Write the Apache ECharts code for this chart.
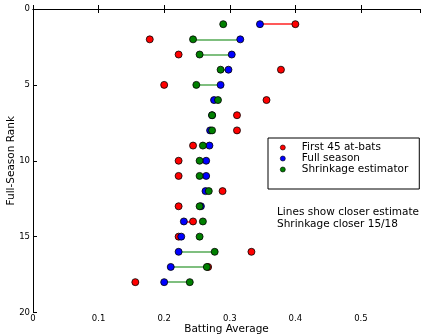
<!DOCTYPE html>
<html><head><meta charset="utf-8">
<script src="https://cdn.jsdelivr.net/npm/echarts@6/dist/echarts.min.js"></script>
<style>html,body{margin:0;padding:0;background:#fff}#c{width:421px;height:335px}</style>
</head><body><div id="c"></div>
<script>
// Full-season rank 1..18
var ranks = [1,2,3,4,5,6,7,8,9,10,11,12,13,14,15,16,17,18];
var first45 = [0.400,0.178,0.222,0.378,0.200,0.356,0.311,0.311,0.244,0.222,0.222,0.289,0.222,0.244,0.222,0.333,0.267,0.156];
var fullSeason = [0.346,0.316,0.303,0.298,0.286,0.276,0.273,0.270,0.269,0.264,0.264,0.263,0.256,0.230,0.226,0.222,0.210,0.200];
var shrinkage = [0.290,0.244,0.254,0.286,0.249,0.282,0.273,0.273,0.259,0.254,0.254,0.268,0.254,0.259,0.254,0.277,0.265,0.239];
var xTicks = [0,0.1,0.2,0.3,0.4,0.5];
var yTicks = [0,5,10,15,20];

var FONT = 'DejaVu Sans';
function pts(vals){ return vals.map(function(v,i){ return [v, ranks[i]]; }); }
var segs = fullSeason.map(function(b,i){
  var dr = Math.abs(first45[i]-b), dg = Math.abs(shrinkage[i]-b);
  var redCloser = dr < dg;
  return {
    coords: [[b, ranks[i]], [redCloser ? first45[i] : shrinkage[i], ranks[i]]],
    lineStyle: {color: redCloser ? 'rgba(255,0,0,0.65)' : 'rgba(0,128,0,0.5)'}
  };
});

var axisCommon = {
  axisLine: {show: true, lineStyle: {color: '#000', width: 1}},
  axisTick: {show: true, inside: true, length: 4, lineStyle: {color: '#000'}},
  splitLine: {show: false}
};
function merge(a,b){ var o={}; for(var k in a)o[k]=a[k]; for(var k2 in b)o[k2]=b[k2]; return o; }

var chart = echarts.init(document.getElementById('c'), null, {renderer:'canvas'});
var option = {
  animation: false,
  grid: {left: 33, right: 1, top: 9, bottom: 22.5, containLabel: false, outerBoundsMode: 'none'},
  xAxis: [
    merge(axisCommon, {type:'value', min:0, max:0.59, interval:0.1, position:'bottom',
      name:'Batting Average', nameLocation:'middle', nameGap:11, nameMoveOverlap:false,
      nameTextStyle:{fontFamily:FONT, fontSize:10.5, color:'#000'},
      axisLabel:{fontFamily:FONT, fontSize:8.5, color:'#000', margin:2, showMaxLabel:false,
        formatter:function(v){ return xTicks.indexOf(Math.round(v*10)/10)>=0 ? String(Math.round(v*10)/10) : ''; }}}),
    merge(axisCommon, {type:'value', min:0, max:0.59, interval:0.1, position:'top', axisLabel:{show:false}})
  ],
  yAxis: [
    merge(axisCommon, {type:'value', min:0, max:20, interval:5, inverse:true, position:'left',
      name:'Full-Season Rank', nameLocation:'middle', nameGap:16, nameRotate:90, nameMoveOverlap:false,
      nameTextStyle:{fontFamily:FONT, fontSize:10.5, color:'#000'},
      axisLabel:{fontFamily:FONT, fontSize:8.5, color:'#000', margin:3}})
  ],
  legend: {
    data: ['First 45 at-bats','Full season','Shrinkage estimator'],
    orient: 'vertical', left: 268, top: 138,
    icon: 'circle', itemWidth: 22, itemHeight: 5, itemGap: 0,
    padding: [4, 11, 14, 12],
    backgroundColor: '#fff', borderColor: '#000', borderWidth: 1, borderRadius: 0,
    textStyle: {fontFamily: FONT, fontSize: 10.5, color: '#000', lineHeight: 11, padding: [0,0,0,3]},
    itemStyle: {borderColor: '#000', borderWidth: 0.6}
  },
  graphic: [{
    type: 'text', left: 277, top: 206,
    style: {text: 'Lines show closer estimate\nShrinkage closer 15/18', font: '10.5px "DejaVu Sans"', fill: '#000', lineHeight: 12}
  }],
  series: [
    {type:'lines', coordinateSystem:'cartesian2d', xAxisIndex:0, yAxisIndex:0, z:1,
      lineStyle:{width:2, opacity:1}, data: segs, silent:true},
    {name:'First 45 at-bats', type:'scatter', z:2, symbol:'circle', symbolSize:7,
      itemStyle:{color:'#ff0000', borderColor:'#000', borderWidth:0.8, opacity:1}, data: pts(first45)},
    {name:'Full season', type:'scatter', z:3, symbol:'circle', symbolSize:7,
      itemStyle:{color:'#0000ff', borderColor:'#000', borderWidth:0.8, opacity:1}, data: pts(fullSeason)},
    {name:'Shrinkage estimator', type:'scatter', z:4, symbol:'circle', symbolSize:7,
      itemStyle:{color:'#008000', borderColor:'#000', borderWidth:0.8, opacity:1}, data: pts(shrinkage)}
  ]
};
chart.setOption(option);
</script></body></html>
